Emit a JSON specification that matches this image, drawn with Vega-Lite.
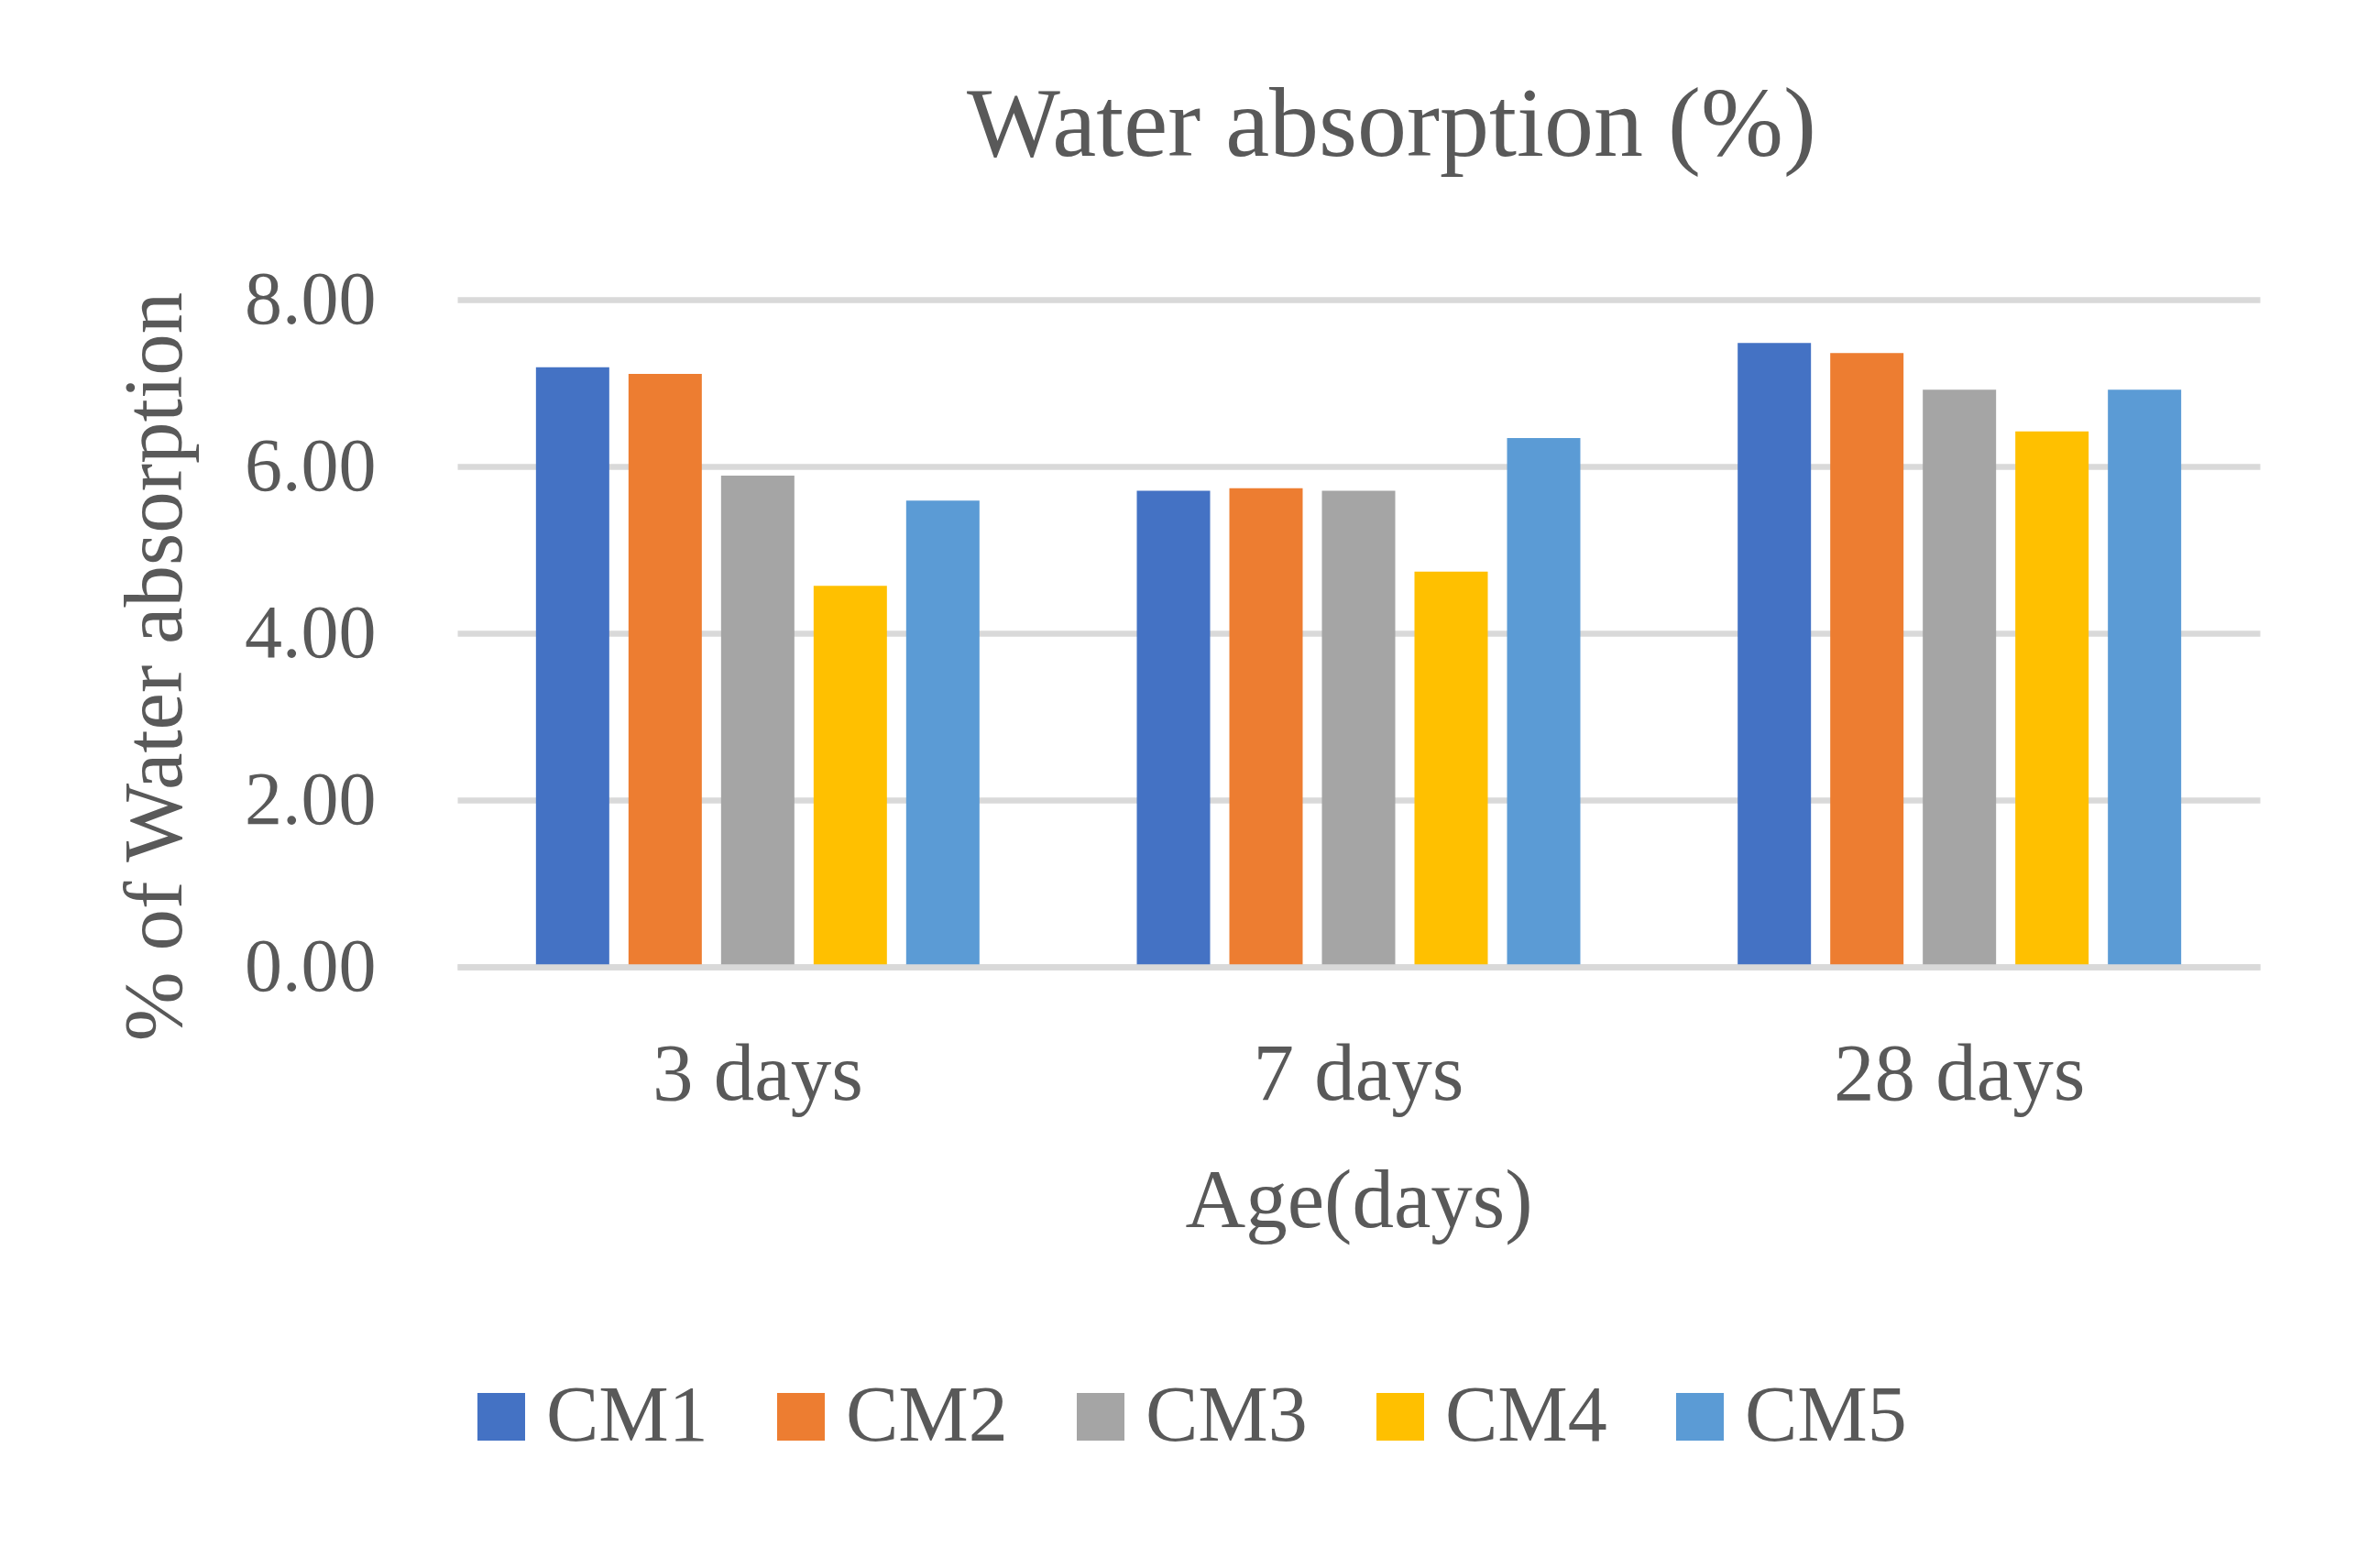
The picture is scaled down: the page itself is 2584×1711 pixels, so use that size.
{
  "$schema": "https://vega.github.io/schema/vega-lite/v6.json",
  "autosize": {"type": "none"},
  "width": 1967,
  "height": 728,
  "padding": {"left": 499, "top": 327, "right": 118, "bottom": 656},
  "background": "white",
  "title": {
    "text": "Water absorption (%)",
    "frame": "group",
    "baseline": "alphabetic",
    "offset": 8,
    "dx": 36,
    "fontSize": 108,
    "fontWeight": "normal",
    "color": "#595959",
    "font": "Liberation Serif"
  },
  "data": {
    "values": [
      {"Age": "3 days", "Mix": "CM1", "Absorption": 7.19},
      {"Age": "3 days", "Mix": "CM2", "Absorption": 7.11},
      {"Age": "3 days", "Mix": "CM3", "Absorption": 5.89},
      {"Age": "3 days", "Mix": "CM4", "Absorption": 4.57},
      {"Age": "3 days", "Mix": "CM5", "Absorption": 5.59},
      {"Age": "7 days", "Mix": "CM1", "Absorption": 5.71},
      {"Age": "7 days", "Mix": "CM2", "Absorption": 5.74},
      {"Age": "7 days", "Mix": "CM3", "Absorption": 5.71},
      {"Age": "7 days", "Mix": "CM4", "Absorption": 4.74},
      {"Age": "7 days", "Mix": "CM5", "Absorption": 6.34},
      {"Age": "28 days", "Mix": "CM1", "Absorption": 7.48},
      {"Age": "28 days", "Mix": "CM2", "Absorption": 7.36},
      {"Age": "28 days", "Mix": "CM3", "Absorption": 6.92},
      {"Age": "28 days", "Mix": "CM4", "Absorption": 6.42},
      {"Age": "28 days", "Mix": "CM5", "Absorption": 6.92}
    ]
  },
  "mark": {"type": "bar"},
  "encoding": {
    "x": {
      "field": "Age",
      "type": "nominal",
      "sort": ["3 days", "7 days", "28 days"],
      "scale": {"paddingInner": 0, "paddingOuter": 0},
      "axis": {
        "title": "Age(days)",
        "labelAngle": 0,
        "labelBaseline": "alphabetic",
        "labelPadding": 144,
        "labelFontSize": 89,
        "labelLimit": 600,
        "ticks": false,
        "tickSize": 0,
        "domain": true,
        "domainColor": "#d9d9d9",
        "domainWidth": 6.5,
        "zindex": 1,
        "titleFontSize": 91,
        "titleBaseline": "alphabetic",
        "titleY": 283
      }
    },
    "xOffset": {
      "field": "Mix",
      "type": "nominal",
      "scale": {"paddingInner": 0.208, "paddingOuter": 0.85}
    },
    "y": {
      "field": "Absorption",
      "type": "quantitative",
      "scale": {"domain": [0, 8], "nice": false},
      "axis": {
        "title": "% of Water absorption",
        "values": [0, 2, 4, 6, 8],
        "format": ".2f",
        "domain": false,
        "ticks": false,
        "tickSize": 0,
        "labelPadding": 89,
        "labelFontSize": 82,
        "gridColor": "#d9d9d9",
        "gridWidth": 6.5,
        "titleFontSize": 91,
        "titleBaseline": "alphabetic",
        "titleX": -302,
        "titleY": 400
      }
    },
    "color": {
      "field": "Mix",
      "type": "nominal",
      "scale": {
        "domain": ["CM1", "CM2", "CM3", "CM4", "CM5"],
        "range": ["#4472C4", "#ED7D31", "#A5A5A5", "#FFC000", "#5B9BD5"]
      },
      "legend": {
        "title": null,
        "orient": "none",
        "direction": "horizontal",
        "legendX": 5,
        "legendY": 1176,
        "padding": 0,
        "symbolType": "square",
        "symbolSize": 2704,
        "symbolStrokeWidth": 0,
        "labelFontSize": 86,
        "labelOffset": 6,
        "columnPadding": 58,
        "labelLimit": 400
      }
    }
  },
  "config": {
    "view": {"stroke": null},
    "font": "Liberation Serif",
    "axis": {
      "labelColor": "#595959",
      "titleColor": "#595959",
      "labelFont": "Liberation Serif",
      "titleFont": "Liberation Serif",
      "titleFontWeight": "normal"
    },
    "axisX": {"grid": false},
    "legend": {
      "labelColor": "#595959",
      "labelFont": "Liberation Serif"
    }
  }
}
